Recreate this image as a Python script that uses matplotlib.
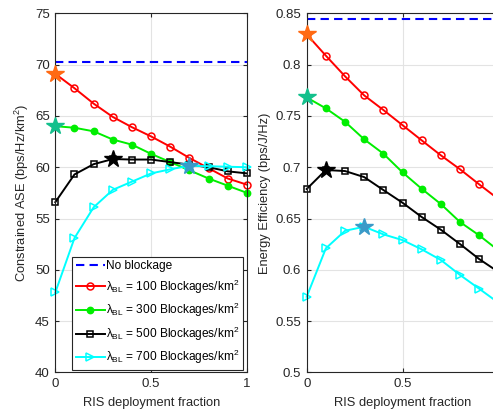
import numpy as np
import matplotlib
matplotlib.use("Agg")
import matplotlib.pyplot as plt

plt.rcParams['font.family'] = ['Liberation Sans', 'DejaVu Sans']
plt.rcParams['mathtext.fontset'] = 'custom'
plt.rcParams['mathtext.rm'] = 'Liberation Sans'
plt.rcParams['mathtext.it'] = 'Liberation Sans'
plt.rcParams['font.size'] = 9

# RIS deployment fraction
frac = [0.0, 0.1, 0.2, 0.3, 0.4, 0.5, 0.6, 0.7, 0.8, 0.9, 1.0]

# constrained ASE (bps/Hz/km^2)
ase_noblock = 70.25
ase_100 = [69.1, 67.7, 66.2, 64.9, 63.9, 63.0, 62.0, 60.9, 59.9, 58.9, 58.3]
ase_300 = [64.0, 63.85, 63.5, 62.7, 62.2, 61.3, 60.5, 59.7, 58.9, 58.2, 57.5]
ase_500 = [56.6, 59.3, 60.3, 60.8, 60.75, 60.75, 60.5, 60.25, 60.0, 59.6, 59.4]
ase_700 = [47.8, 53.1, 56.1, 57.8, 58.6, 59.4, 59.8, 60.15, 60.1, 60.05, 60.0]

# energy efficiency (bps/J/Hz)
ee_noblock = 0.8442
ee_100 = [0.8295, 0.8087, 0.7886, 0.7700, 0.7558, 0.7410, 0.7262, 0.7116, 0.6980, 0.6833, 0.6690]
ee_300 = [0.7680, 0.7574, 0.7443, 0.7272, 0.7132, 0.6950, 0.6790, 0.6641, 0.6466, 0.6336, 0.6190]
ee_500 = [0.6788, 0.6973, 0.6963, 0.6904, 0.6778, 0.6654, 0.6515, 0.6391, 0.6251, 0.6105, 0.5980]
ee_700 = [0.5738, 0.6210, 0.6381, 0.6420, 0.6346, 0.6290, 0.6200, 0.6096, 0.5950, 0.5816, 0.5680]

labels = [r'$\lambda_{BL}$ = 100 Blockages/km$^2$',
          r'$\lambda_{BL}$ = 300 Blockages/km$^2$',
          r'$\lambda_{BL}$ = 500 Blockages/km$^2$',
          r'$\lambda_{BL}$ = 700 Blockages/km$^2$']
colors = ['#ff0000', '#00ee00', '#000000', '#00ffff']
markers = ['o', 'o', 's', '>']
mfaces = ['none', '#00ee00', 'none', 'none']
msizes = [5, 4.5, 4.5, 6]
star_colors = ['#ff6a13', '#13c08c', '#000000', '#3a9ac8']

fig = plt.figure(figsize=(4.93, 4.12), dpi=100)
ax1 = fig.add_axes([0.1122, 0.0959, 0.3888, 0.8718])
ax2 = fig.add_axes([0.6221, 0.0959, 0.3888, 0.8718])


def draw(ax, noblock, series, xlabels):
    ax.plot([0, 1], [noblock, noblock], '--', color='#0000ff', lw=1.5,
            dashes=(4, 2.5), label='No blockage')
    for i, ys in enumerate(series):
        ax.plot(frac, ys, color=colors[i], marker=markers[i], lw=1.4,
                ms=msizes[i], mfc=mfaces[i], mew=1.1, label=labels[i],
                clip_on=False)
    for i, ys in enumerate(series):
        k = int(np.argmax(ys))
        ax.plot(frac[k], ys[k], marker='*', ms=13, color=star_colors[i],
                mec=star_colors[i], zorder=5, clip_on=False)
    ax.set_xlim(0, 1)
    ax.set_xticks([0, 0.5, 1])
    ax.set_xticklabels(xlabels)
    ax.grid(True, color='#e3e3e3', lw=0.8)
    ax.set_axisbelow(True)
    ax.tick_params(direction='in', length=3, colors='#262626', top=True, right=True,
                   labelsize=9.5, pad=4)
    for s in ax.spines.values():
        s.set_color('#262626')
        s.set_linewidth(0.8)
    ax.set_xlabel('RIS deployment fraction', color='#262626', labelpad=5,
                  fontsize=9.3)


draw(ax1, ase_noblock, [ase_100, ase_300, ase_500, ase_700], ['0', '0.5', '1'])
ax1.set_ylim(40, 75)
ax1.set_yticks([40, 45, 50, 55, 60, 65, 70, 75])
ax1.set_ylabel('Constrained ASE (bps/Hz/km$^2$)', color='#262626', labelpad=3,
               fontsize=9.3)

draw(ax2, ee_noblock, [ee_100, ee_300, ee_500, ee_700], ['0', '0.5', ''])
ax2.set_ylim(0.5, 0.85)
ax2.set_yticks([0.5, 0.55, 0.6, 0.65, 0.7, 0.75, 0.8, 0.85])
ax2.set_yticklabels(['0.5', '0.55', '0.6', '0.65', '0.7', '0.75', '0.8', '0.85'])
ax2.set_ylabel('Energy Efficiency (bps/J/Hz)', color='#262626', labelpad=3,
               fontsize=9.3)

leg = ax1.legend(loc='lower right', bbox_to_anchor=(0.978, 0.007), borderaxespad=0,
                 fontsize=8.6, handlelength=2.4, labelspacing=0.45, handletextpad=0.1,
                 borderpad=0.3, fancybox=False, framealpha=1)
leg.get_frame().set_edgecolor('#262626')
leg.get_frame().set_linewidth(0.8)

fig.savefig('out.png', dpi=100)
